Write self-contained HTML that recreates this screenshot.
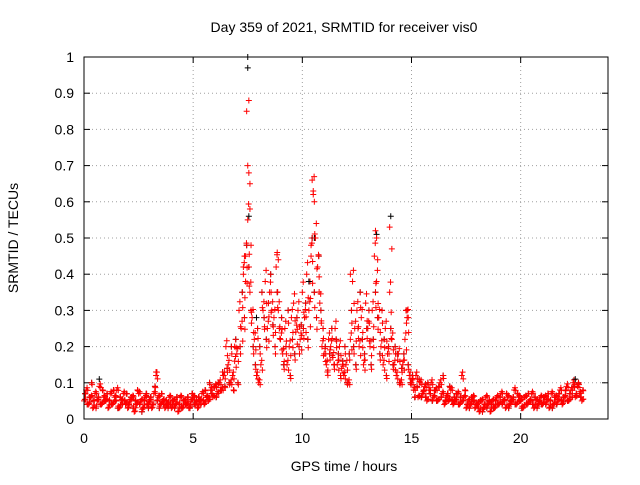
<!DOCTYPE html>
<html><head><meta charset="utf-8"><style>
body{margin:0;background:#fff}
svg text{font-family:"Liberation Sans",sans-serif;font-size:14px;fill:#000}
</style></head><body>
<svg id="chart" width="640" height="480" viewBox="0 0 640 480" xmlns="http://www.w3.org/2000/svg">
<text x="344" y="32" text-anchor="middle">Day 359 of 2021, SRMTID for receiver vis0</text>
<text x="344" y="471" text-anchor="middle">GPS time / hours</text>
<text x="18" y="238" text-anchor="middle" transform="rotate(-90 18 238)">SRMTID / TECUs</text>
<g id="grid"></g>
<g id="axes"></g>
<g id="marks"></g>
<rect x="84" y="57" width="524" height="362" fill="none" stroke="#000" stroke-width="1"/>
</svg>
<script>
const xTicks=[0,5,10,15,20];
const yTicks=[0,0.1,0.2,0.3,0.4,0.5,0.6,0.7,0.8,0.9,1];
const yTickLabels=["0","0.1","0.2","0.3","0.4","0.5","0.6","0.7","0.8","0.9","1"];
const seriesAStart=0, seriesBStart=0.05, step=0.1;
const seriesA=[.05,.08,.04,.06,.03,.07,.05,.09,.04,.06,
.05,.03,.07,.04,.06,.08,.03,.05,.07,.04,
.03,.05,.06,.02,.04,.07,.05,.03,.06,.04,
.05,.03,.07,.12,.06,.04,.05,.03,.04,.06,
.03,.05,.04,.02,.06,.03,.05,.04,.03,.05,
.06,.04,.03,.05,.07,.04,.06,.05,.08,.06,
.09,.07,.1,.08,.12,.2,.15,.1,.12,.16,
.18,.3,.25,.4,.45,.55,.35,.28,.22,.12,
.1,.15,.3,.38,.25,.35,.3,.28,.42,.3,
.22,.18,.25,.15,.2,.28,.32,.24,.3,.22,
.35,.28,.4,.3,.45,.62,.5,.42,.32,.2,
.18,.15,.22,.2,.17,.25,.15,.2,.14,.12,
.15,.1,.22,.38,.25,.3,.2,.28,.15,.32,
.25,.2,.3,.45,.38,.28,.2,.15,.25,.18,
.35,.22,.15,.12,.18,.1,.15,.22,.28,.12,
.1,.08,.12,.06,.1,.07,.09,.05,.08,.1,
.06,.08,.05,.1,.07,.04,.06,.05,.08,.04,
.05,.07,.04,.12,.06,.03,.05,.04,.06,.03,
.04,.02,.05,.03,.06,.04,.02,.05,.03,.06,
.04,.07,.05,.03,.06,.04,.05,.08,.04,.06,
.05,.03,.06,.04,.05,.07,.03,.05,.04,.06,
.04,.06,.05,.03,.07,.04,.06,.05,.08,.04,
.06,.09,.05,.08,.1,.06,.09,.07,.05];
const seriesB=[.07,.04,.06,.1,.05,.03,.06,.04,.08,.05,
.07,.05,.04,.08,.05,.03,.06,.04,.05,.07,
.04,.06,.03,.05,.08,.04,.02,.05,.07,.03,
.06,.04,.09,.05,.03,.07,.04,.05,.03,.04,
.05,.03,.06,.04,.03,.05,.04,.06,.03,.07,
.04,.05,.06,.04,.05,.08,.06,.1,.07,.09,
.06,.1,.08,.13,.09,.14,.1,.2,.08,.22,
.1,.2,.35,.28,.48,.42,.3,.2,.15,.25,
.2,.35,.28,.22,.32,.4,.26,.2,.35,.25,
.28,.15,.2,.3,.12,.22,.18,.28,.2,.26,
.25,.32,.22,.38,.5,.35,.28,.45,.3,.25,
.2,.13,.18,.25,.15,.22,.18,.12,.16,.2,
.1,.18,.3,.2,.15,.25,.35,.22,.18,.25,
.3,.15,.22,.35,.28,.18,.3,.22,.12,.2,
.25,.15,.2,.18,.1,.14,.18,.3,.15,.1,
.12,.06,.09,.11,.06,.08,.06,.1,.07,.05,
.08,.05,.09,.06,.12,.05,.07,.09,.05,.06,
.07,.04,.06,.05,.08,.04,.03,.06,.05,.04,
.03,.05,.02,.04,.03,.05,.04,.03,.05,.04,
.06,.04,.05,.07,.03,.05,.06,.04,.07,.05,
.03,.06,.04,.07,.05,.04,.06,.03,.05,.04,
.06,.04,.07,.05,.03,.06,.04,.07,.05,.06,
.08,.05,.07,.06,.09,.07,.1,.06,.08];
const spikeTimes=[7.45,7.55,7.5,7.55,7.6,7.6,7.35,7.3,8.85,8.9,10.45,10.5,10.55,10.6,10.4,12.2,13.35,13.4,13.45,14.0,14.1,6.9,14.8,14.85,3.3,7.65,7.4];
const spikeValues=[.85,.88,.7,.68,.65,.58,.45,.42,.46,.44,.66,.63,.6,.5,.48,.4,.52,.5,.44,.53,.47,.2,.3,.28,.13,.48,.38];
const blackTimes=[7.5,7.5,7.55,10.55,14.05,13.4,10.3,7.9,0.7,22.5];
const blackValues=[1.0,.97,.56,.5,.56,.51,.38,.28,.11,.11];

const NS="http://www.w3.org/2000/svg";
const X0=84,X1=608,Y0=419,Y1=57,XMAX=24;
const xs=v=>X0+v/XMAX*(X1-X0);
const ys=v=>Y0-v*(Y0-Y1);
const grid=document.getElementById('grid'),axes=document.getElementById('axes'),marks=document.getElementById('marks');
function mk(tag,attrs,parent){const e=document.createElementNS(NS,tag);for(const k in attrs)e.setAttribute(k,attrs[k]);parent.appendChild(e);return e;}
xTicks.forEach(t=>{
  const x=xs(t);
  if(t>0){const g=mk('line',{x1:x,x2:x,y1:Y0,y2:Y1,stroke:'#a0a0a0','stroke-dasharray':'1,3'},grid);
  
  }
  mk('line',{x1:x,x2:x,y1:Y0,y2:Y0-6,stroke:'#000'},axes);
  mk('line',{x1:x,x2:x,y1:Y1,y2:Y1+6,stroke:'#000'},axes);
  const l=mk('text',{x:x,y:Y0+24,'text-anchor':'middle'},axes);l.textContent=t;
  
  
});
yTicks.forEach((t,i)=>{
  const y=ys(t);
  if(t>0&&t<1){const g=mk('line',{x1:X0,x2:X1,y1:y,y2:y,stroke:'#a0a0a0','stroke-dasharray':'1,3'},grid);
  
  }
  mk('line',{x1:X0,x2:X0+6,y1:y,y2:y,stroke:'#000'},axes);
  mk('line',{x1:X1,x2:X1-6,y1:y,y2:y,stroke:'#000'},axes);
  const l=mk('text',{x:X0-10,y:y+5,'text-anchor':'end'},axes);l.textContent=yTickLabels[i];
  
  
});
function plus(t,v,color,name){
  const x=xs(t),y=ys(v);
  const p=mk('path',{d:`M${x-3} ${y}h6M${x} ${y-3}v6`,stroke:color,'stroke-width':1,fill:'none'},marks);
  
  
}
seriesB.forEach((v,i)=>plus(seriesBStart+i*step,v,'#000','black-point'));
seriesB.forEach((v,i)=>plus(seriesBStart+i*step,v,'#f00','red-point'));
seriesA.forEach((v,i)=>plus(seriesAStart+i*step,v,'#f00','red-point'));
seriesB.forEach((v,i)=>plus(seriesBStart+i*step+0.02,v*0.85+0.01,'#f00','red-point'));
seriesA.forEach((v,i)=>plus(seriesAStart+i*step+0.04,v*1.08,'#f00','red-point'));
seriesA.forEach((v,i)=>plus(seriesAStart+i*step+0.07,v*0.8+0.015,'#f00','red-point'));
blackTimes.forEach((t,i)=>plus(t,blackValues[i],'#000','black-point'));
spikeTimes.forEach((t,i)=>plus(t,spikeValues[i],'#f00','red-spike-point'));
</script>
</body></html>
